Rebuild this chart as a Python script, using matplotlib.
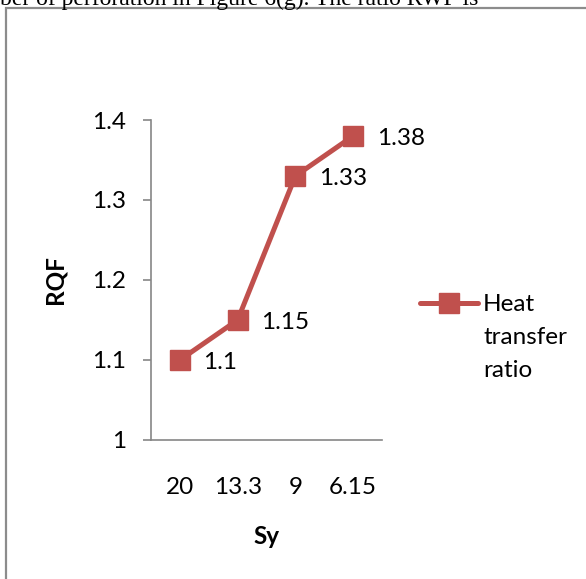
import matplotlib.pyplot as plt
from matplotlib.patches import Rectangle

# RQF against Sy spacing
sy_labels = ['20', '13.3', '9', '6.15']
rqf = [1.1, 1.15, 1.33, 1.38]
yticks = [1, 1.1, 1.2, 1.3, 1.4]
ytick_labels = ['1', '1.1', '1.2', '1.3', '1.4']
series_name = 'Heat\ntransfer\nratio'

red = '#C0504D'
grey = '#868686'
plt.rcParams['font.family'] = ['Lato', 'DejaVu Sans']
fs = 17.5

fig = plt.figure(figsize=(5.86, 5.79), dpi=100)

# page text above the chart frame, cut at the top edge
fig.text(0.0, 1 - 5 / 579, 'ber of perforation in Figure 6(g). The ratio RWF is',
         family='Liberation Serif', fontsize=17, va='baseline', ha='left')
# chart frame
fig.patches.append(Rectangle((6 / 586, -0.1), 1.2, 1 - 8 / 579 + 0.1,
                             transform=fig.transFigure, fill=False,
                             edgecolor='#8c8c8c', lw=1.6))

ax = fig.add_axes([151 / 586, 1 - 440 / 579, 231 / 586, 320 / 579])
x = list(range(len(sy_labels)))
ax.plot(x, rqf, color=red, lw=3.6, marker='s', markersize=14,
        label=series_name, solid_capstyle='round')
for xi, v in zip(x, rqf):
    ax.annotate('%g' % v, (xi, v), xytext=(17, -2), textcoords='offset points',
                ha='left', va='center', fontsize=fs)

ax.set_xlim(-0.5, len(sy_labels) - 0.5)
ax.set_ylim(1, 1.4)
ax.set_yticks(yticks)
ax.set_yticklabels(ytick_labels)
ax.set_xticks(x)
ax.set_xticklabels(sy_labels)
ax.tick_params(axis='y', direction='out', length=6, width=1.2, color=grey,
               labelsize=fs, pad=12)
ax.tick_params(axis='x', length=0, labelsize=fs, pad=27)
for s in ['top', 'right']:
    ax.spines[s].set_visible(False)
for s in ['left', 'bottom']:
    ax.spines[s].set_color(grey)
    ax.spines[s].set_linewidth(1.2)

ax.set_xlabel('Sy', fontsize=fs, fontweight='bold', va='center')
ax.set_ylabel('RQF', fontsize=fs, fontweight='bold', va='center')
ax.xaxis.set_label_coords(0.5, -(537 - 440) / 320)
ax.yaxis.set_label_coords(-(151 - 55) / 231, 0.5)

leg = ax.legend(loc='upper left', bbox_to_anchor=(420 / 586, 1 - 294 / 579),
                bbox_transform=fig.transFigure, frameon=False, fontsize=fs,
                handlelength=2.4, handletextpad=0.2, borderpad=0, borderaxespad=0)
for t in leg.get_texts():
    t.set_linespacing(1.72)
# keep the marker level with the first line of the label
for col in leg._legend_handle_box.get_children():
    for hp in col.get_children():
        hp.align = 'top'

fig.savefig('out.png', dpi=100)
